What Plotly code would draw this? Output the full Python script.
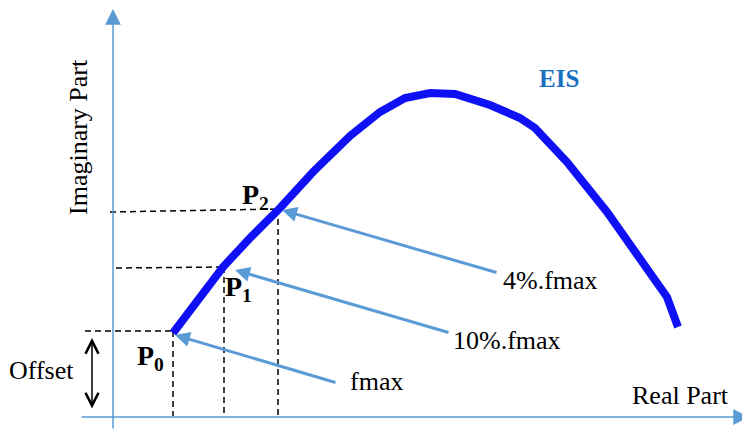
import plotly.graph_objects as go

# EIS curve (real part, imaginary part), origin at the axis crossing
curve_re = [60, 85, 110, 137, 167, 200, 237, 267, 292, 317, 342, 377, 407, 422, 454, 494, 527, 554, 565]
curve_im = [83, 116, 149, 178, 208, 244, 280, 304, 318, 323, 322, 311, 298, 288, 254, 204, 159, 119, 89]

# reference points P0, P1, P2 and where their dashed guides start on the left
p_re = [60, 111, 165]
p_im = [85, 149, 207]
guide_left_re = [-28, 3, -3]
guide_left_im = [85, 148, 204]
p_names = ["P<sub>0</sub>", "P<sub>1</sub>", "P<sub>2</sub>"]

# pointer arrows: frequency labels -> points
freq_labels = ["fmax", "10%.fmax", "4%.fmax"]
arrow_tail_re = [224, 337, 385]
arrow_tail_im = [33, 83, 143]
arrow_tip_re = [62, 122, 169]
arrow_tip_im = [81, 146, 206]

# offset span
offset_im = [6, 78]

AXIS_BLUE = "#5b9bd5"
SERIF = "Liberation Serif, Times New Roman, serif"

fig = go.Figure()

# dashed guides
for i in range(3):
    fig.add_trace(go.Scatter(x=[guide_left_re[i], p_re[i]], y=[guide_left_im[i], p_im[i]],
                             mode="lines", line={"color": "black", "width": 1.5, "dash": "6px,4px"},
                             hoverinfo="skip"))
    fig.add_trace(go.Scatter(x=[p_re[i], p_re[i]], y=[p_im[i], 0],
                             mode="lines", line={"color": "black", "width": 1.5, "dash": "6px,4px"},
                             hoverinfo="skip"))

# EIS curve
fig.add_trace(go.Scatter(x=curve_re, y=curve_im, mode="lines",
                         line={"color": "#1010f5", "width": 8},
                         hoverinfo="skip"))

annotations = []

# axes with arrow heads
annotations.append(dict(x=636, y=-1, ax=-33, ay=-1, xref="x", yref="y", axref="x", ayref="y",
                        showarrow=True, arrowhead=2, arrowsize=2.1, arrowwidth=1.5,
                        arrowcolor=AXIS_BLUE, standoff=0, text=""))
annotations.append(dict(x=0, y=407, ax=0, ay=-14, xref="x", yref="y", axref="x", ayref="y",
                        showarrow=True, arrowhead=2, arrowsize=2.1, arrowwidth=1.5,
                        arrowcolor=AXIS_BLUE, standoff=0, text=""))

# offset double arrow
annotations.append(dict(x=-21, y=offset_im[1], ax=-21, ay=offset_im[0], xref="x", yref="y",
                        axref="x", ayref="y", showarrow=True, arrowhead=5, arrowside="end+start",
                        arrowsize=1.7, arrowwidth=1.5, arrowcolor="black", standoff=0, startstandoff=0,
                        text=""))

# pointer arrows
for i in range(3):
    annotations.append(dict(x=arrow_tip_re[i], y=arrow_tip_im[i], ax=arrow_tail_re[i], ay=arrow_tail_im[i],
                            xref="x", yref="y", axref="x", ayref="y", showarrow=True, arrowhead=2,
                            arrowsize=1.0, arrowwidth=3, arrowcolor=AXIS_BLUE, standoff=0, text=""))

# text labels
freq_pos = [(263, 35), (394, 76), (437, 136)]
for (tx, ty), lab in zip(freq_pos, freq_labels):
    annotations.append(dict(x=tx, y=ty, xref="x", yref="y", text=lab, showarrow=False,
                            font={"family": SERIF, "size": 26, "color": "black"}))

p_pos = [(37, 59), (125, 128), (142, 220)]
for (tx, ty), lab in zip(p_pos, p_names):
    annotations.append(dict(x=tx, y=ty, xref="x", yref="y", text="<b>" + lab + "</b>", showarrow=False,
                            font={"family": SERIF, "size": 28, "color": "black"}))

annotations.append(dict(x=567, y=21, xref="x", yref="y", text="Real Part", showarrow=False,
                        font={"family": SERIF, "size": 26, "color": "black"}))
annotations.append(dict(x=-72, y=46, xref="x", yref="y", text="Offset", showarrow=False,
                        font={"family": SERIF, "size": 26, "color": "black"}))
annotations.append(dict(x=-35, y=279, xref="x", yref="y", text="Imaginary Part", showarrow=False,
                        textangle=-90, font={"family": SERIF, "size": 26, "color": "black"}))
annotations.append(dict(x=446, y=338, xref="x", yref="y", text="<b>EIS</b>", showarrow=False,
                        font={"family": SERIF, "size": 25, "color": "#1a70c0"}))

# page body has an 8px margin, so the figure is sized to the visible part of the window
fig.update_layout(
    width=742,
    height=422,
    margin={"l": 0, "r": 0, "t": 0, "b": 0},
    paper_bgcolor="white",
    plot_bgcolor="white",
    showlegend=False,
    xaxis={"range": [-105, 637], "visible": False, "fixedrange": True},
    yaxis={"range": [-14, 408], "visible": False, "fixedrange": True},
    annotations=annotations,
)

fig.write_html("out.html")
